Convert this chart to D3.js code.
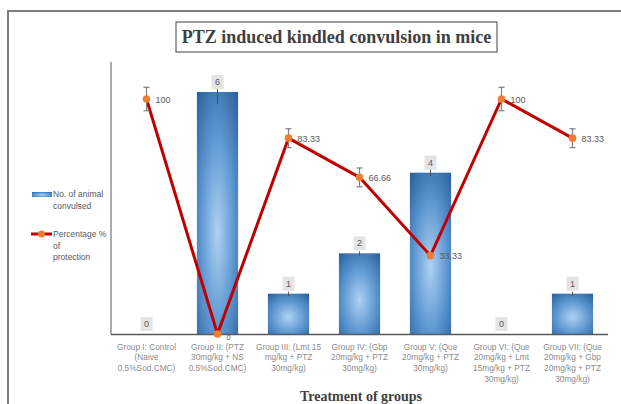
<!DOCTYPE html>
<html>
<head>
<meta charset="utf-8">
<script src="https://cdn.jsdelivr.net/npm/d3@7"></script>
<style>
  body { margin: 0; background: #fff; }
  svg { display: block; }
</style>
</head>
<body>
<div id="canvas"></div>
<script>
"use strict"

/* Data */
let groups = ["I", "II", "III", "IV", "V", "VI", "VII"];
let groupLabels = [
    ["Group I: Control", "(Naive", "0.5%Sod.CMC)"],
    ["Group II: (PTZ", "30mg/kg + NS", "0.5%Sod.CMC)"],
    ["Group III: (Lmt 15", "mg/kg + PTZ", "30mg/kg)"],
    ["Group IV: (Gbp", "20mg/kg + PTZ", "30mg/kg)"],
    ["Group V: (Que", "20mg/kg + PTZ", "30mg/kg)"],
    ["Group VI: (Que", "20mg/kg + Lmt", "15mg/kg + PTZ", "30mg/kg)"],
    ["Group VII: (Que", "20mg/kg + Gbp", "20mg/kg + PTZ", "30mg/kg)"]
];
let convulsed = [0, 6, 1, 2, 4, 0, 1];
let convulsedErr = [0, 0.3, 0.05, 0.05, 0.08, 0, 0.05];
let protection = [100, 0, 83.33, 66.66, 33.33, 100, 83.33];
let protectionErr = [5, 0, 4, 4, 1, 5, 4];

/* Drawing config */
let svgWidth = 621;
let svgHeight = 404;
let plotLeft = 111, plotRight = 608, plotTop = 62, plotBase = 334;
let labelFont = "'Liberation Sans', Arial, sans-serif";

let svg = d3.select("#canvas")
    .append("svg")
    .attr("width", svgWidth)
    .attr("height", svgHeight);

let defs = svg.append("defs");
let grad = defs.append("radialGradient")
    .attr("id", "barGrad")
    .attr("cx", "50%").attr("cy", "58%")
    .attr("r", "75%");
grad.append("stop").attr("offset", "0%").attr("stop-color", "#aed2f2");
grad.append("stop").attr("offset", "55%").attr("stop-color", "#5b95d0");
grad.append("stop").attr("offset", "100%").attr("stop-color", "#2a609e");

/* outer frame (runs off the right and bottom) */
svg.append("rect")
    .attr("x", 8).attr("y", 11)
    .attr("width", 640).attr("height", 420)
    .attr("fill", "none")
    .attr("stroke", "#7f7f7f")
    .attr("stroke-width", 2);

/* title */
svg.append("rect")
    .attr("x", 176).attr("y", 22)
    .attr("width", 321).attr("height", 30)
    .attr("fill", "#fff")
    .attr("stroke", "#404040")
    .attr("stroke-width", 1);
svg.append("text")
    .attr("x", 336.5).attr("y", 43)
    .attr("text-anchor", "middle")
    .attr("font-family", "'Liberation Serif', 'Times New Roman', serif")
    .attr("font-weight", "bold")
    .attr("font-size", 18)
    .attr("fill", "#404040")
    .text("PTZ induced kindled convulsion in mice");

/* scales */
let x = d3.scaleBand()
    .domain(groups)
    .range([plotLeft, plotRight])
    .paddingInner(0.42)
    .paddingOuter(0.21);

let yCount = d3.scaleLinear()
    .domain([0, 6])
    .range([plotBase, 92]);

let yPct = d3.scaleLinear()
    .domain([0, 100])
    .range([plotBase, 99]);

let cx = d => x(d) + x.bandwidth() / 2;

/* plot area left edge */
svg.append("line")
    .attr("x1", plotLeft).attr("x2", plotLeft)
    .attr("y1", plotTop).attr("y2", plotBase)
    .attr("stroke", "#595959");

/* bars */
svg.selectAll("rect.bar")
    .data(groups)
    .join("rect")
    .attr("class", "bar")
    .attr("x", d => x(d))
    .attr("width", x.bandwidth())
    .attr("y", (d, i) => yCount(convulsed[i]))
    .attr("height", (d, i) => plotBase - yCount(convulsed[i]))
    .attr("fill", "url(#barGrad)");

/* bar error bars */
svg.selectAll("line.berr")
    .data(groups)
    .join("line")
    .attr("class", "berr")
    .attr("x1", cx).attr("x2", cx)
    .attr("y1", (d, i) => yCount(convulsed[i] + convulsedErr[i]))
    .attr("y2", (d, i) => yCount(convulsed[i] - convulsedErr[i]))
    .attr("stroke", "#404040")
    .attr("stroke-width", 1)
    .attr("opacity", (d, i) => convulsedErr[i] > 0 ? 0.8 : 0);

/* x axis */
let xAxis = svg.append("g")
    .attr("transform", `translate(0,${plotBase})`)
    .call(d3.axisBottom(x).tickSize(0).tickPadding(0));
xAxis.select(".domain")
    .attr("stroke", "#595959")
    .attr("stroke-width", 1.3)
    .attr("d", `M${plotLeft},0.5H${plotRight}`);
xAxis.selectAll(".tick text")
    .attr("font-family", labelFont)
    .attr("font-size", 8.3)
    .attr("fill", "#8c8c8c")
    .attr("y", 0)
    .attr("dy", null)
    .text(null)
    .each(function (d, i) {
        let t = d3.select(this);
        groupLabels[i].forEach((line, j) => {
            t.append("tspan")
                .attr("x", 0)
                .attr("y", 15.5 + j * 10.7)
                .text(line);
        });
    });

/* bar data labels */
let barLabels = svg.selectAll("g.blabel")
    .data(groups)
    .join("g")
    .attr("class", "blabel")
    .attr("transform", (d, i) => `translate(${cx(d)},${yCount(convulsed[i]) - 10})`);
barLabels.append("rect")
    .attr("x", -6).attr("y", -7)
    .attr("width", 12).attr("height", 14)
    .attr("fill", "#e4e4e4");
barLabels.append("text")
    .attr("y", 3)
    .attr("text-anchor", "middle")
    .attr("font-family", labelFont)
    .attr("font-size", 9)
    .attr("fill", "#595959")
    .text((d, i) => convulsed[i]);

/* protection line */
let line = d3.line()
    .x(d => cx(d))
    .y((d, i) => yPct(protection[i]));

svg.append("path")
    .datum(groups)
    .attr("d", line)
    .attr("fill", "none")
    .attr("stroke", "#c00000")
    .attr("stroke-width", 3)
    .attr("stroke-linejoin", "round");

/* line error bars */
let pErr = svg.selectAll("g.perr")
    .data(groups)
    .join("g")
    .attr("class", "perr")
    .attr("stroke", "#7f7f7f")
    .attr("stroke-width", 1.2)
    .attr("opacity", (d, i) => protectionErr[i] > 0 ? 1 : 0);
pErr.append("line")
    .attr("x1", cx).attr("x2", cx)
    .attr("y1", (d, i) => yPct(protection[i] + protectionErr[i]))
    .attr("y2", (d, i) => yPct(protection[i] - protectionErr[i]));
pErr.append("line")
    .attr("x1", d => cx(d) - 3).attr("x2", d => cx(d) + 3)
    .attr("y1", (d, i) => yPct(protection[i] + protectionErr[i]))
    .attr("y2", (d, i) => yPct(protection[i] + protectionErr[i]));
pErr.append("line")
    .attr("x1", d => cx(d) - 3).attr("x2", d => cx(d) + 3)
    .attr("y1", (d, i) => yPct(protection[i] - protectionErr[i]))
    .attr("y2", (d, i) => yPct(protection[i] - protectionErr[i]));

/* markers */
svg.selectAll("circle.mark")
    .data(groups)
    .join("circle")
    .attr("class", "mark")
    .attr("cx", cx)
    .attr("cy", (d, i) => yPct(protection[i]))
    .attr("r", 3.8)
    .attr("fill", "#ed7d31");

/* line data labels */
svg.selectAll("text.plabel")
    .data(groups)
    .join("text")
    .attr("class", "plabel")
    .attr("x", d => cx(d) + 9)
    .attr("y", (d, i) => yPct(protection[i]) + (protection[i] === 0 ? 5.5 : 3.5))
    .attr("font-family", labelFont)
    .attr("font-size", (d, i) => protection[i] === 0 ? 7.5 : 9)
    .attr("fill", "#595959")
    .text((d, i) => protection[i]);

/* x axis title */
svg.append("text")
    .attr("x", 361).attr("y", 401)
    .attr("text-anchor", "middle")
    .attr("font-family", "'Liberation Serif', 'Times New Roman', serif")
    .attr("font-weight", "bold")
    .attr("font-size", 14)
    .attr("fill", "#404040")
    .text("Treatment of groups");

/* legend */
svg.append("rect")
    .attr("x", 32).attr("y", 192)
    .attr("width", 20).attr("height", 5)
    .attr("fill", "url(#barGrad)");
svg.append("text")
    .attr("font-family", labelFont)
    .attr("font-size", 8.5)
    .attr("fill", "#595959")
    .selectAll("tspan")
    .data(["No. of animal", "convulsed"])
    .join("tspan")
    .attr("x", 53)
    .attr("y", (d, i) => 197 + i * 11.5)
    .text(d => d);

svg.append("line")
    .attr("x1", 31).attr("x2", 52)
    .attr("y1", 234).attr("y2", 234)
    .attr("stroke", "#c00000")
    .attr("stroke-width", 3);
svg.append("circle")
    .attr("cx", 41.5).attr("cy", 234)
    .attr("r", 3.5)
    .attr("fill", "#ed7d31");
svg.append("text")
    .attr("font-family", labelFont)
    .attr("font-size", 8.5)
    .attr("fill", "#595959")
    .selectAll("tspan")
    .data(["Percentage %", "of", "protection"])
    .join("tspan")
    .attr("x", 53)
    .attr("y", (d, i) => 237 + i * 11.5)
    .text(d => d);
</script>
</body>
</html>
